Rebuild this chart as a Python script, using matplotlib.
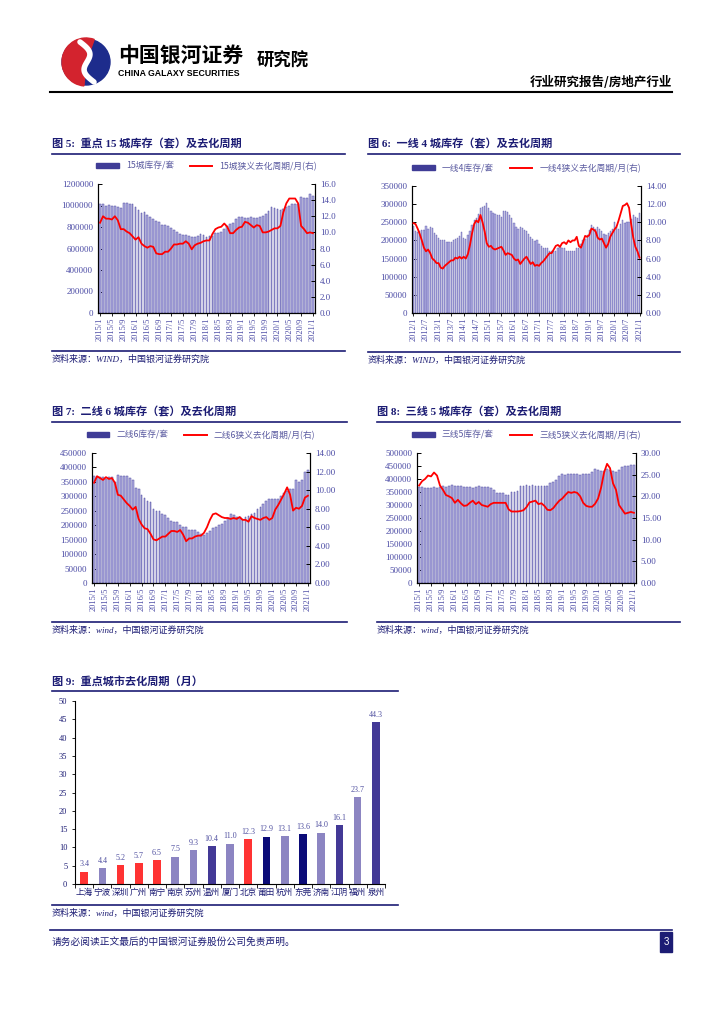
import matplotlib.pyplot as plt
from matplotlib.patches import Rectangle, Ellipse, Wedge
from matplotlib.lines import Line2D
import numpy as np
import pandas as pd

plt.rcParams['font.family'] = ['Liberation Serif', 'Noto Sans CJK SC', 'DejaVu Sans']

NAVY = '#1C1C74'
TICK_C = '#4B4BA5'
BAR_FC = '#B3B0E2'
BAR_EC = '#4A47A0'
RED = '#FF0000'
CJK = ['Noto Sans CJK SC', 'DejaVu Sans']

# ---- 图5 重点15城 (库存单位: 千套) 2015/1 - 2021/1
inv15 = [1010, 1015, 995, 1005, 1000, 995, 985, 980, 1025, 1020, 1015, 1015,
         990, 960, 930, 935, 910, 895, 870, 855, 845, 820, 815, 810,
         790, 770, 750, 735, 725, 725, 715, 705, 710, 720, 735, 730,
         710, 715, 720, 740, 745, 755, 780, 805, 830, 840, 870, 895,
         890, 885, 880, 890, 880, 885, 890, 905, 920, 945, 985, 975,
         965, 960, 965, 990, 995, 1010, 1010, 1015, 1075, 1070, 1070, 1110,
         1090]
cyc15 = [11.2, 12.0, 11.7, 11.7, 11.6, 12.0, 11.5, 10.4, 10.4, 10.1, 9.9, 9.5,
         9.1, 9.4, 8.6, 8.3, 8.1, 8.3, 8.2, 7.4, 7.3, 7.3, 7.6, 7.6,
         8.0, 8.5, 8.5, 8.6, 8.6, 8.9, 8.6, 7.9, 8.4, 8.6, 8.7, 8.9,
         9.0, 9.0, 9.8, 10.4, 10.6, 10.7, 11.1, 10.7, 9.9, 9.9, 10.3, 10.6,
         10.7, 11.3, 11.2, 10.9, 10.6, 10.9, 10.8, 10.0, 10.0, 10.1, 10.3, 10.5,
         10.5, 10.8, 12.5, 13.6, 14.2, 14.2, 14.2, 13.6, 10.8, 10.4, 9.9, 10.0,
         9.9]

# ---- 图6 一线4城 2012/1 - 2021/1
inv_t1 = [240, 225, 222, 225, 230, 228, 240, 232, 236, 235, 220, 215,
          208, 200, 202, 200, 197, 196, 195, 202, 205, 208, 212, 222,
          208, 204, 214, 225, 242, 255, 262, 272, 290, 292, 296, 302,
          290, 282, 275, 272, 270, 270, 265, 280, 280, 278, 270, 262,
          248, 238, 232, 238, 235, 228, 225, 218, 210, 205, 198, 200,
          190, 185, 178, 180, 178, 172, 170, 172, 172, 178, 182, 180,
          178, 172, 170, 170, 170, 172, 178, 180, 190, 200, 205, 215,
          228, 242, 236, 232, 238, 232, 225, 218, 215, 220, 226, 232,
          252, 238, 232, 245, 255, 248, 252, 250, 258, 270, 265, 262,
          275]
cyc_t1 = [9.9, 9.8, 9.3, 8.7, 8.0, 7.2, 6.8, 7.0, 6.6, 6.0, 5.8, 5.5,
          5.5, 5.0, 4.9, 5.2, 5.4, 5.6, 5.8, 5.8, 6.1, 6.0, 6.2, 6.0,
          6.2, 6.0, 6.5, 7.5, 8.8, 9.8, 10.2, 10.0, 10.8, 10.0, 9.0, 7.7,
          7.3, 7.4, 7.1, 7.0, 7.1, 7.2, 7.3, 6.9, 6.4, 6.6, 6.5, 6.4,
          6.0, 5.8, 5.9, 5.4, 5.7, 6.0, 6.2, 5.8, 5.4, 5.6, 5.2, 5.3,
          5.2, 5.5, 5.7, 6.0, 6.3, 6.6, 6.6, 7.0, 7.4, 7.5, 7.3, 7.7,
          7.8, 7.6, 8.0, 7.8, 8.0, 8.0, 8.4, 7.4, 7.2, 7.8, 8.5, 8.4,
          8.6, 9.3, 9.2, 9.0, 8.3, 8.1, 8.2, 7.7, 7.2, 7.6, 8.4, 8.8,
          9.2, 9.5, 10.2, 11.0, 11.8, 11.9, 12.1, 11.6, 9.8, 8.3, 7.3, 6.8,
          6.1]

# ---- 图7 二线6城 2015/1 - 2021/1
inv_t2 = [370, 368, 366, 368, 360, 366, 368, 350, 375, 370, 370, 372,
          365, 355, 330, 325, 305, 295, 285, 280, 255, 250, 250, 240,
          235, 225, 215, 210, 210, 200, 195, 195, 185, 185, 185, 175,
          170, 165, 172, 180, 190, 195, 200, 205, 215, 225, 240, 235,
          230, 228, 222, 230, 232, 238, 242, 255, 262, 272, 285, 290,
          292, 290, 290, 300, 310, 320, 325, 325, 355, 350, 358, 385,
          390]
cyc_t2 = [10.8, 11.5, 11.3, 11.1, 11.4, 11.2, 11.3, 10.8, 9.5, 9.4, 9.0, 8.6,
          8.3, 7.9, 8.2, 6.9, 6.3, 5.9, 5.8, 5.3, 4.7, 4.6, 4.8, 5.0,
          5.0, 5.3, 5.6, 5.6, 5.5, 5.7, 5.2, 4.5, 4.8, 4.8, 5.0, 5.1,
          5.1, 5.4, 6.0, 6.8, 7.4, 7.5, 7.3, 7.1, 7.0, 7.0, 6.9, 7.0,
          6.9, 7.1, 6.8, 6.8, 6.6, 7.2, 7.0, 6.9, 6.8, 7.0, 7.1, 6.8,
          7.0, 7.9, 8.4, 9.0, 9.6, 10.3, 9.5, 7.8, 8.1, 8.0, 8.3, 9.2,
          9.4]

# ---- 图8 三线5城 2015/1 - 2021/1
inv_t3 = [370, 368, 366, 366, 366, 368, 366, 368, 375, 370, 372, 378,
          375, 375, 372, 368, 368, 368, 365, 368, 372, 370, 370, 370,
          365, 358, 348, 345, 345, 340, 338, 350, 350, 355, 372, 375,
          378, 372, 378, 375, 375, 375, 375, 375, 385, 388, 395, 410,
          418, 415, 418, 418, 418, 420, 415, 418, 418, 420, 428, 438,
          435, 432, 432, 440, 435, 430, 428, 435, 448, 450, 450, 455,
          452]
cyc_t3 = [22.5, 23.5, 24.0, 24.8, 24.6, 25.5, 24.8, 22.5, 21.5, 20.3, 20.0, 19.6,
          18.5, 19.2, 18.4, 17.8, 17.9, 18.5, 19.0, 18.2, 18.7, 18.0, 17.8, 17.6,
          18.2, 18.5, 18.5, 18.5, 18.5, 18.5, 17.0, 16.5, 16.5, 16.5, 16.6, 16.8,
          17.5, 18.6, 18.8, 19.0, 18.2, 18.4, 17.8, 16.9, 16.8, 17.3, 18.2, 19.0,
          19.5, 20.3, 21.0, 20.8, 21.0, 20.8, 20.0, 18.5, 17.8, 17.6, 17.6, 18.3,
          19.5, 22.0, 25.5, 27.5, 26.5, 23.0, 21.5, 18.0, 17.0, 16.0, 16.2, 16.4,
          16.2]

# ---- 图9 重点城市去化周期(月)
cities = ['上海', '宁波', '深圳', '广州', '南宁', '南京', '苏州', '温州', '厦门',
          '北京', '莆田', '杭州', '东莞', '济南', '江阴', '福州', '泉州']
months9 = [3.4, 4.4, 5.2, 5.7, 6.5, 7.5, 9.3, 10.4, 11.0, 12.3, 12.9, 13.1,
           13.6, 14.0, 16.1, 23.7, 44.3]
groups9 = ['r', 'l', 'r', 'r', 'r', 'l', 'l', 'm', 'l', 'r', 'n', 'l', 'n',
           'l', 'm', 'l', 'm']
GROUP_C = {'r': '#FF3333', 'l': '#8C85C2', 'm': '#433996', 'n': '#0B0B78'}

fig = plt.figure(figsize=(7.24, 10.24), dpi=100)
fig.patch.set_facecolor('white')
page = fig.add_axes([0, 0, 1, 1])
page.set_xlim(0, 724)
page.set_ylim(1024, 0)
page.axis('off')


def rect(x0, y0, x1, y1):
    return [x0 / 724, 1 - y1 / 1024, (x1 - x0) / 724, (y1 - y0) / 1024]


# ===== 页眉 (logo: 左红右蓝, 白色S) =====
page.add_patch(Ellipse((86, 62), 48, 46, color='#1D2C8C', zorder=2))
page.add_patch(Wedge((86, 62), 24, 95, 290, color='#D3232E', zorder=3))
tt = np.linspace(0, 1, 40)
page.plot(80 + 14 * tt + 6 * np.sin(tt * 2 * np.pi), 42 + 40 * tt, color='white',
          lw=4, solid_capstyle='round', zorder=4)
page.text(118, 55, '中国银河证券', fontsize=15, fontweight='bold', family=CJK,
          va='center', ha='left', color='black')
page.text(118, 74, 'CHINA GALAXY SECURITIES', fontsize=6.3, fontweight='bold',
          family=['Liberation Sans'], va='center', ha='left', color='black')
page.text(257, 61, '研究院', fontsize=12.5, fontweight='bold', family=CJK,
          va='center', ha='left', color='black')
page.text(672, 82, '行业研究报告/房地产行业', fontsize=9, fontweight='bold',
          family=CJK, va='center', ha='right', color='black')
page.plot([50, 672], [92, 92], color='black', lw=1.5)


def title(x, y, x1, s):
    page.text(x, y, s, fontsize=8, fontweight='bold', color=NAVY, va='center', ha='left')
    page.plot([x, x1], [y + 10, y + 10], color=NAVY, lw=1.2)


def source(x, y, x1, s):
    page.plot([x, x1], [y, y], color=NAVY, lw=1.2)
    page.text(x, y + 8, s, fontsize=6.5, style='italic', color=NAVY, va='center', ha='left')


def dual(box, start, bars, line, lmax, lstep, rmax, rstep, rfmt, every,
         bar_lab, line_lab, ew):
    ax = fig.add_axes(rect(*box))
    n = len(bars)
    x = np.arange(n)
    ax.bar(x, np.array(bars) * 1000, width=0.6, color=BAR_FC, edgecolor=BAR_EC,
           linewidth=ew, zorder=2)
    ax.set_xlim(-0.7, n - 0.3)
    ax.set_ylim(0, lmax)
    lt = np.arange(0, lmax + 1, lstep)
    ax.set_yticks(lt)
    ax.set_yticklabels([f'{int(v)}' for v in lt])
    ax2 = ax.twinx()
    ax2.plot(x, line, color=RED, lw=1.3, zorder=3)
    ax2.set_ylim(0, rmax)
    rt = np.arange(0, rmax + 0.001, rstep)
    ax2.set_yticks(rt)
    ax2.set_yticklabels([rfmt.format(v) for v in rt])
    dates = pd.date_range(start, periods=n, freq='MS')
    ax.set_xticks(x[::every])
    ax.set_xticklabels([f'{d.year}/{d.month}' for d in dates[::every]], rotation=90)
    for a in (ax, ax2):
        a.spines['top'].set_visible(False)
        for s in ('left', 'right', 'bottom'):
            a.spines[s].set_linewidth(0.8)
        a.tick_params(axis='y', direction='in', length=3, width=0.7,
                      labelsize=6.5, labelcolor=TICK_C)
    ax.tick_params(axis='x', direction='out', length=2, width=0.6,
                   labelsize=6, labelcolor=TICK_C, pad=1.5)
    handles = [Rectangle((0, 0), 1, 1, color='#3F3C96'),
               Line2D([0], [0], color=RED, lw=1.4)]
    ax.legend(handles, [bar_lab, line_lab], loc='lower center',
              bbox_to_anchor=(0.5, 1.04), ncol=2, frameon=False,
              labelcolor='#5A5AA0', handlelength=2.6, handleheight=0.5,
              columnspacing=1.8, prop={'family': CJK, 'size': 6.3})
    return ax


# ===== 图5 =====
title(52, 144, 345, '图 5:  重点 15 城库存（套）及去化周期')
dual((98, 184, 315, 313), '2015-01', inv15, cyc15, 1200000, 200000, 16.0, 2.0,
     '{:.1f}', 4, '15城库存/套', '15城狭义去化周期/月(右)', 0.35)
source(52, 351, 345, '资料来源：WIND，中国银河证券研究院')

# ===== 图6 =====
title(368, 144, 680, '图 6:  一线 4 城库存（套）及去化周期')
dual((412, 186, 641, 313), '2012-01', inv_t1, cyc_t1, 350000, 50000, 14.0, 2.0,
     '{:.2f}', 6, '一线4库存/套', '一线4狭义去化周期/月(右)', 0.25)
source(368, 352, 680, '资料来源：WIND，中国银河证券研究院')

# ===== 图7 =====
title(52, 412, 347, '图 7:  二线 6 城库存（套）及去化周期')
dual((92, 453, 310, 583), '2015-01', inv_t2, cyc_t2, 450000, 50000, 14.0, 2.0,
     '{:.2f}', 4, '二线6库存/套', '二线6狭义去化周期/月(右)', 0.35)
source(52, 622, 347, '资料来源：wind，中国银河证券研究院')

# ===== 图8 =====
title(377, 412, 680, '图 8:  三线 5 城库存（套）及去化周期')
dual((417, 453, 636, 583), '2015-01', inv_t3, cyc_t3, 500000, 50000, 30.0, 5.0,
     '{:.2f}', 4, '三线5库存/套', '三线5狭义去化周期/月(右)', 0.35)
source(377, 622, 680, '资料来源：wind，中国银河证券研究院')

# ===== 图9 =====
title(52, 681, 398, '图 9:  重点城市去化周期（月）')
ax9 = fig.add_axes(rect(75, 701, 385, 884))
x9 = np.arange(len(cities))
ax9.bar(x9, months9, width=0.42, color=[GROUP_C[g] for g in groups9], zorder=2)
for xi, v in zip(x9, months9):
    ax9.text(xi, v + 0.9, f'{v:.1f}', ha='center', va='bottom', fontsize=5.8,
             color='#5050A0')
ax9.set_xlim(-0.5, len(cities) - 0.5)
ax9.set_ylim(0, 50)
ax9.set_yticks(np.arange(0, 51, 5))
ax9.set_xticks(x9)
ax9.set_xticklabels(cities, family=CJK, fontsize=6.2, color=NAVY)
ax9.set_xticks(np.arange(-0.5, len(cities), 1), minor=True)
ax9.tick_params(axis='x', which='major', length=0, pad=3)
ax9.tick_params(axis='x', which='minor', length=3, width=0.6, direction='out')
ax9.tick_params(axis='y', direction='out', length=2, width=0.6, labelsize=6,
                labelcolor=NAVY)
ax9.spines['top'].set_visible(False)
ax9.spines['right'].set_visible(False)
for s in ('left', 'bottom'):
    ax9.spines[s].set_linewidth(0.8)
source(52, 905, 398, '资料来源：wind，中国银河证券研究院')

# ===== 页脚 =====
page.plot([50, 672], [930, 930], color=NAVY, lw=1.2)
page.text(52, 942, '请务必阅读正文最后的中国银河证券股份公司免责声明。', fontsize=7,
          family=CJK, color=NAVY, va='center', ha='left')
page.add_patch(Rectangle((660, 932), 12, 20, color=NAVY))
page.text(666, 942, '3', fontsize=7, color='white', ha='center', va='center',
          family=['Liberation Sans'])

fig.savefig('out.png', dpi=100, facecolor='white')
